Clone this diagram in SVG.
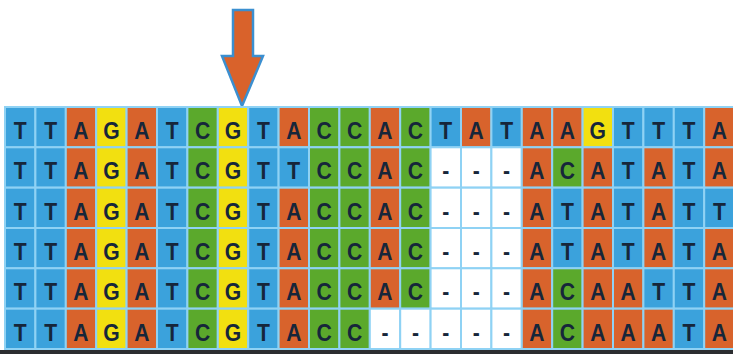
<svg xmlns="http://www.w3.org/2000/svg" width="733" height="354" viewBox="0 0 733 354">
<style>
rect.cell{stroke:#8fd2f4;stroke-width:2}
.T{fill:#3ba2dc}.A{fill:#d8632c}.G{fill:#f2e010}.C{fill:#5ba92c}.W{fill:#ffffff}
text.seq{font-family:"Liberation Sans",Arial,sans-serif;font-weight:bold;font-size:24px;fill:#16263a;text-anchor:middle}
</style>
<rect x="0" y="0" width="733" height="354" fill="#ffffff"/>
<g id="arrow">
<path d="M233,10 L253,10 L253,56 L263,56 L242,106 L222,56 L233,56 Z" fill="#d9622b" stroke="#3b8fd0" stroke-width="2.5" stroke-linejoin="miter"/>
</g>
<g id="row1">
<rect class="cell T" x="5" y="107" width="30.4" height="40.3"/><rect class="cell T" x="35.4" y="107" width="30.4" height="40.3"/><rect class="cell A" x="65.8" y="107" width="30.4" height="40.3"/><rect class="cell G" x="96.2" y="107" width="30.4" height="40.3"/><rect class="cell A" x="126.6" y="107" width="30.4" height="40.3"/><rect class="cell T" x="157" y="107" width="30.4" height="40.3"/><rect class="cell C" x="187.4" y="107" width="30.4" height="40.3"/><rect class="cell G" x="217.8" y="107" width="30.4" height="40.3"/><rect class="cell T" x="248.2" y="107" width="30.4" height="40.3"/><rect class="cell A" x="278.6" y="107" width="30.4" height="40.3"/><rect class="cell C" x="309" y="107" width="30.4" height="40.3"/><rect class="cell C" x="339.4" y="107" width="30.4" height="40.3"/><rect class="cell A" x="369.8" y="107" width="30.4" height="40.3"/><rect class="cell C" x="400.2" y="107" width="30.4" height="40.3"/><rect class="cell T" x="430.6" y="107" width="30.4" height="40.3"/><rect class="cell A" x="461" y="107" width="30.4" height="40.3"/><rect class="cell T" x="491.4" y="107" width="30.4" height="40.3"/><rect class="cell A" x="521.8" y="107" width="30.4" height="40.3"/><rect class="cell A" x="552.2" y="107" width="30.4" height="40.3"/><rect class="cell G" x="582.6" y="107" width="30.4" height="40.3"/><rect class="cell T" x="613" y="107" width="30.4" height="40.3"/><rect class="cell T" x="643.4" y="107" width="30.4" height="40.3"/><rect class="cell T" x="673.8" y="107" width="30.4" height="40.3"/><rect class="cell A" x="704.2" y="107" width="30.4" height="40.3"/>
<text class="seq" transform="scale(0.88 1)" y="139" x="22.95 57.5 92.05 126.59 161.14 195.68 230.23 264.77 299.32 333.86 368.41 402.95 437.5 472.05 506.59 541.14 575.68 610.23 644.77 679.32 713.86 748.41 782.95 817.5">TTAGATCGTACCACTATAAGTTTA</text>
</g>
<g id="row2">
<rect class="cell T" x="5" y="147.3" width="30.4" height="40.3"/><rect class="cell T" x="35.4" y="147.3" width="30.4" height="40.3"/><rect class="cell A" x="65.8" y="147.3" width="30.4" height="40.3"/><rect class="cell G" x="96.2" y="147.3" width="30.4" height="40.3"/><rect class="cell A" x="126.6" y="147.3" width="30.4" height="40.3"/><rect class="cell T" x="157" y="147.3" width="30.4" height="40.3"/><rect class="cell C" x="187.4" y="147.3" width="30.4" height="40.3"/><rect class="cell G" x="217.8" y="147.3" width="30.4" height="40.3"/><rect class="cell T" x="248.2" y="147.3" width="30.4" height="40.3"/><rect class="cell T" x="278.6" y="147.3" width="30.4" height="40.3"/><rect class="cell C" x="309" y="147.3" width="30.4" height="40.3"/><rect class="cell C" x="339.4" y="147.3" width="30.4" height="40.3"/><rect class="cell A" x="369.8" y="147.3" width="30.4" height="40.3"/><rect class="cell C" x="400.2" y="147.3" width="30.4" height="40.3"/><rect class="cell W" x="430.6" y="147.3" width="30.4" height="40.3"/><rect class="cell W" x="461" y="147.3" width="30.4" height="40.3"/><rect class="cell W" x="491.4" y="147.3" width="30.4" height="40.3"/><rect class="cell A" x="521.8" y="147.3" width="30.4" height="40.3"/><rect class="cell C" x="552.2" y="147.3" width="30.4" height="40.3"/><rect class="cell A" x="582.6" y="147.3" width="30.4" height="40.3"/><rect class="cell T" x="613" y="147.3" width="30.4" height="40.3"/><rect class="cell A" x="643.4" y="147.3" width="30.4" height="40.3"/><rect class="cell T" x="673.8" y="147.3" width="30.4" height="40.3"/><rect class="cell A" x="704.2" y="147.3" width="30.4" height="40.3"/>
<text class="seq" transform="scale(0.88 1)" y="179.3" x="22.95 57.5 92.05 126.59 161.14 195.68 230.23 264.77 299.32 333.86 368.41 402.95 437.5 472.05 506.59 541.14 575.68 610.23 644.77 679.32 713.86 748.41 782.95 817.5">TTAGATCGTTCCAC---ACATATA</text>
</g>
<g id="row3">
<rect class="cell T" x="5" y="187.7" width="30.4" height="40.3"/><rect class="cell T" x="35.4" y="187.7" width="30.4" height="40.3"/><rect class="cell A" x="65.8" y="187.7" width="30.4" height="40.3"/><rect class="cell G" x="96.2" y="187.7" width="30.4" height="40.3"/><rect class="cell A" x="126.6" y="187.7" width="30.4" height="40.3"/><rect class="cell T" x="157" y="187.7" width="30.4" height="40.3"/><rect class="cell C" x="187.4" y="187.7" width="30.4" height="40.3"/><rect class="cell G" x="217.8" y="187.7" width="30.4" height="40.3"/><rect class="cell T" x="248.2" y="187.7" width="30.4" height="40.3"/><rect class="cell A" x="278.6" y="187.7" width="30.4" height="40.3"/><rect class="cell C" x="309" y="187.7" width="30.4" height="40.3"/><rect class="cell C" x="339.4" y="187.7" width="30.4" height="40.3"/><rect class="cell A" x="369.8" y="187.7" width="30.4" height="40.3"/><rect class="cell C" x="400.2" y="187.7" width="30.4" height="40.3"/><rect class="cell W" x="430.6" y="187.7" width="30.4" height="40.3"/><rect class="cell W" x="461" y="187.7" width="30.4" height="40.3"/><rect class="cell W" x="491.4" y="187.7" width="30.4" height="40.3"/><rect class="cell A" x="521.8" y="187.7" width="30.4" height="40.3"/><rect class="cell T" x="552.2" y="187.7" width="30.4" height="40.3"/><rect class="cell A" x="582.6" y="187.7" width="30.4" height="40.3"/><rect class="cell T" x="613" y="187.7" width="30.4" height="40.3"/><rect class="cell A" x="643.4" y="187.7" width="30.4" height="40.3"/><rect class="cell T" x="673.8" y="187.7" width="30.4" height="40.3"/><rect class="cell T" x="704.2" y="187.7" width="30.4" height="40.3"/>
<text class="seq" transform="scale(0.88 1)" y="219.7" x="22.95 57.5 92.05 126.59 161.14 195.68 230.23 264.77 299.32 333.86 368.41 402.95 437.5 472.05 506.59 541.14 575.68 610.23 644.77 679.32 713.86 748.41 782.95 817.5">TTAGATCGTACCAC---ATATATT</text>
</g>
<g id="row4">
<rect class="cell T" x="5" y="228" width="30.4" height="40.3"/><rect class="cell T" x="35.4" y="228" width="30.4" height="40.3"/><rect class="cell A" x="65.8" y="228" width="30.4" height="40.3"/><rect class="cell G" x="96.2" y="228" width="30.4" height="40.3"/><rect class="cell A" x="126.6" y="228" width="30.4" height="40.3"/><rect class="cell T" x="157" y="228" width="30.4" height="40.3"/><rect class="cell C" x="187.4" y="228" width="30.4" height="40.3"/><rect class="cell G" x="217.8" y="228" width="30.4" height="40.3"/><rect class="cell T" x="248.2" y="228" width="30.4" height="40.3"/><rect class="cell A" x="278.6" y="228" width="30.4" height="40.3"/><rect class="cell C" x="309" y="228" width="30.4" height="40.3"/><rect class="cell C" x="339.4" y="228" width="30.4" height="40.3"/><rect class="cell A" x="369.8" y="228" width="30.4" height="40.3"/><rect class="cell C" x="400.2" y="228" width="30.4" height="40.3"/><rect class="cell W" x="430.6" y="228" width="30.4" height="40.3"/><rect class="cell W" x="461" y="228" width="30.4" height="40.3"/><rect class="cell W" x="491.4" y="228" width="30.4" height="40.3"/><rect class="cell A" x="521.8" y="228" width="30.4" height="40.3"/><rect class="cell T" x="552.2" y="228" width="30.4" height="40.3"/><rect class="cell A" x="582.6" y="228" width="30.4" height="40.3"/><rect class="cell T" x="613" y="228" width="30.4" height="40.3"/><rect class="cell A" x="643.4" y="228" width="30.4" height="40.3"/><rect class="cell T" x="673.8" y="228" width="30.4" height="40.3"/><rect class="cell A" x="704.2" y="228" width="30.4" height="40.3"/>
<text class="seq" transform="scale(0.88 1)" y="260" x="22.95 57.5 92.05 126.59 161.14 195.68 230.23 264.77 299.32 333.86 368.41 402.95 437.5 472.05 506.59 541.14 575.68 610.23 644.77 679.32 713.86 748.41 782.95 817.5">TTAGATCGTACCAC---ATATATA</text>
</g>
<g id="row5">
<rect class="cell T" x="5" y="268.3" width="30.4" height="40.3"/><rect class="cell T" x="35.4" y="268.3" width="30.4" height="40.3"/><rect class="cell A" x="65.8" y="268.3" width="30.4" height="40.3"/><rect class="cell G" x="96.2" y="268.3" width="30.4" height="40.3"/><rect class="cell A" x="126.6" y="268.3" width="30.4" height="40.3"/><rect class="cell T" x="157" y="268.3" width="30.4" height="40.3"/><rect class="cell C" x="187.4" y="268.3" width="30.4" height="40.3"/><rect class="cell G" x="217.8" y="268.3" width="30.4" height="40.3"/><rect class="cell T" x="248.2" y="268.3" width="30.4" height="40.3"/><rect class="cell A" x="278.6" y="268.3" width="30.4" height="40.3"/><rect class="cell C" x="309" y="268.3" width="30.4" height="40.3"/><rect class="cell C" x="339.4" y="268.3" width="30.4" height="40.3"/><rect class="cell A" x="369.8" y="268.3" width="30.4" height="40.3"/><rect class="cell C" x="400.2" y="268.3" width="30.4" height="40.3"/><rect class="cell W" x="430.6" y="268.3" width="30.4" height="40.3"/><rect class="cell W" x="461" y="268.3" width="30.4" height="40.3"/><rect class="cell W" x="491.4" y="268.3" width="30.4" height="40.3"/><rect class="cell A" x="521.8" y="268.3" width="30.4" height="40.3"/><rect class="cell C" x="552.2" y="268.3" width="30.4" height="40.3"/><rect class="cell A" x="582.6" y="268.3" width="30.4" height="40.3"/><rect class="cell A" x="613" y="268.3" width="30.4" height="40.3"/><rect class="cell T" x="643.4" y="268.3" width="30.4" height="40.3"/><rect class="cell T" x="673.8" y="268.3" width="30.4" height="40.3"/><rect class="cell A" x="704.2" y="268.3" width="30.4" height="40.3"/>
<text class="seq" transform="scale(0.88 1)" y="300.3" x="22.95 57.5 92.05 126.59 161.14 195.68 230.23 264.77 299.32 333.86 368.41 402.95 437.5 472.05 506.59 541.14 575.68 610.23 644.77 679.32 713.86 748.41 782.95 817.5">TTAGATCGTACCAC---ACAATTA</text>
</g>
<g id="row6">
<rect class="cell T" x="5" y="308.7" width="30.4" height="40.3"/><rect class="cell T" x="35.4" y="308.7" width="30.4" height="40.3"/><rect class="cell A" x="65.8" y="308.7" width="30.4" height="40.3"/><rect class="cell G" x="96.2" y="308.7" width="30.4" height="40.3"/><rect class="cell A" x="126.6" y="308.7" width="30.4" height="40.3"/><rect class="cell T" x="157" y="308.7" width="30.4" height="40.3"/><rect class="cell C" x="187.4" y="308.7" width="30.4" height="40.3"/><rect class="cell G" x="217.8" y="308.7" width="30.4" height="40.3"/><rect class="cell T" x="248.2" y="308.7" width="30.4" height="40.3"/><rect class="cell A" x="278.6" y="308.7" width="30.4" height="40.3"/><rect class="cell C" x="309" y="308.7" width="30.4" height="40.3"/><rect class="cell C" x="339.4" y="308.7" width="30.4" height="40.3"/><rect class="cell W" x="369.8" y="308.7" width="30.4" height="40.3"/><rect class="cell W" x="400.2" y="308.7" width="30.4" height="40.3"/><rect class="cell W" x="430.6" y="308.7" width="30.4" height="40.3"/><rect class="cell W" x="461" y="308.7" width="30.4" height="40.3"/><rect class="cell W" x="491.4" y="308.7" width="30.4" height="40.3"/><rect class="cell A" x="521.8" y="308.7" width="30.4" height="40.3"/><rect class="cell C" x="552.2" y="308.7" width="30.4" height="40.3"/><rect class="cell A" x="582.6" y="308.7" width="30.4" height="40.3"/><rect class="cell A" x="613" y="308.7" width="30.4" height="40.3"/><rect class="cell A" x="643.4" y="308.7" width="30.4" height="40.3"/><rect class="cell T" x="673.8" y="308.7" width="30.4" height="40.3"/><rect class="cell A" x="704.2" y="308.7" width="30.4" height="40.3"/>
<text class="seq" transform="scale(0.88 1)" y="340.7" x="22.95 57.5 92.05 126.59 161.14 195.68 230.23 264.77 299.32 333.86 368.41 402.95 437.5 472.05 506.59 541.14 575.68 610.23 644.77 679.32 713.86 748.41 782.95 817.5">TTAGATCGTACC-----ACAAATA</text>
</g>
<rect x="0" y="350" width="733" height="4" fill="#2b2d30"/>
</svg>
